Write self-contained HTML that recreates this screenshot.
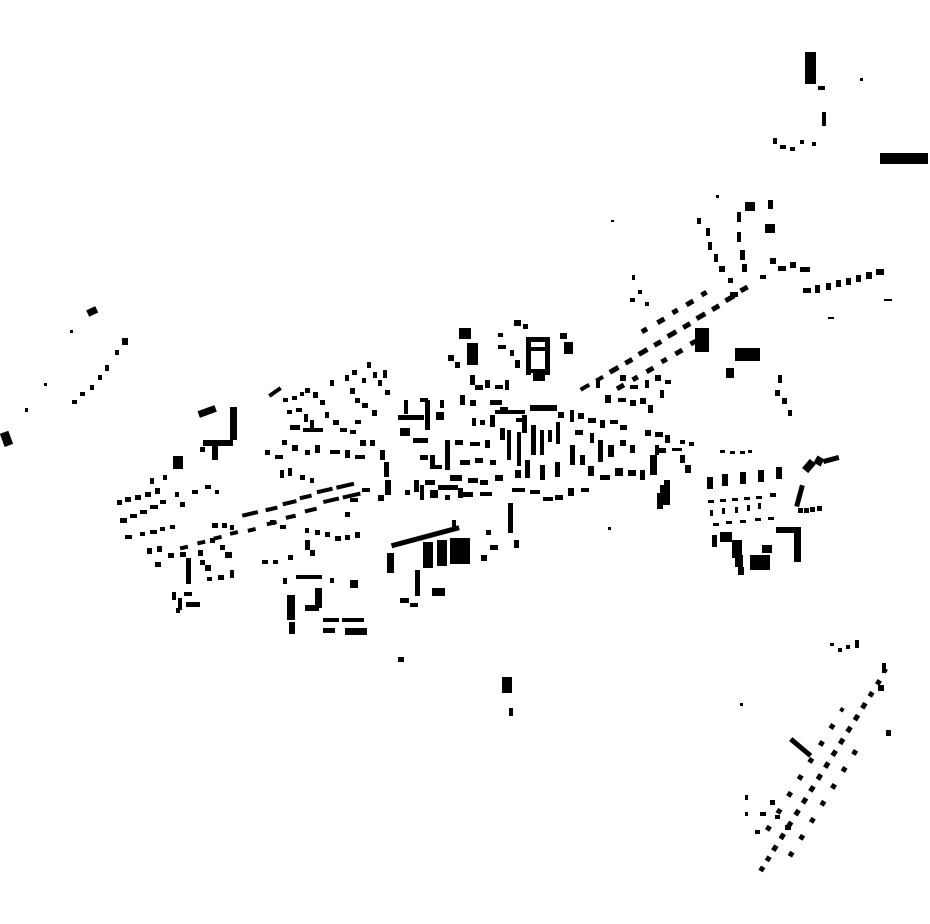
<!DOCTYPE html>
<html><head><meta charset="utf-8"><style>html,body{margin:0;padding:0;background:#fff;}svg{display:block}</style></head>
<body>
<svg width="930" height="924" viewBox="0 0 930 924" xmlns="http://www.w3.org/2000/svg">
<g fill="#000">
<!-- top right -->
<rect x="805" y="52" width="11" height="32"/><rect x="818" y="86" width="7" height="4"/><rect x="860" y="78" width="3" height="3"/>
<rect x="822" y="112" width="4" height="14"/><rect x="880" y="153" width="48" height="11"/>
<rect x="773" y="138" width="4" height="6"/><rect x="780" y="145" width="6" height="4"/><rect x="790" y="147" width="5" height="4"/><rect x="800" y="140" width="4" height="4"/><rect x="812" y="142" width="4" height="4"/>
<rect x="745" y="202" width="10" height="9"/><rect x="768" y="200" width="5" height="9"/><rect x="765" y="224" width="10" height="9"/><rect x="716" y="195" width="3" height="3"/><rect x="611" y="220" width="3" height="2"/>
<rect x="737" y="212" width="4" height="10"/><rect x="737" y="232" width="4" height="10"/><rect x="740" y="250" width="5" height="10"/><rect x="742" y="264" width="5" height="8"/>
<rect x="697" y="218" width="4" height="6"/><rect x="706" y="228" width="4" height="8"/><rect x="708" y="242" width="4" height="8"/><rect x="714" y="254" width="4" height="8"/><rect x="719" y="266" width="6" height="6"/><rect x="730" y="292" width="8" height="5"/><rect x="728" y="278" width="5" height="5"/>
<rect x="770" y="258" width="6" height="6"/><rect x="778" y="266" width="8" height="5"/><rect x="790" y="262" width="6" height="6"/><rect x="800" y="267" width="10" height="5"/><rect x="760" y="275" width="6" height="4"/>
<rect x="803" y="288" width="8" height="5"/><rect x="815" y="285" width="5" height="8"/><rect x="826" y="283" width="5" height="7"/><rect x="836" y="280" width="5" height="7"/><rect x="846" y="278" width="5" height="7"/><rect x="856" y="275" width="5" height="7"/><rect x="866" y="272" width="6" height="7"/><rect x="876" y="269" width="8" height="6"/><rect x="884" y="299" width="8" height="2"/><rect x="828" y="317" width="6" height="2"/>
<!-- diagonal main road chain NE -->
<g transform="rotate(-30 650 330)">
<rect x="560" y="345" width="10" height="4"/><rect x="578" y="345" width="8" height="4"/><rect x="594" y="344" width="10" height="5"/><rect x="612" y="344" width="8" height="5"/><rect x="628" y="343" width="10" height="5"/><rect x="646" y="343" width="8" height="5"/><rect x="662" y="342" width="10" height="5"/><rect x="680" y="342" width="8" height="5"/><rect x="696" y="341" width="10" height="5"/><rect x="714" y="341" width="8" height="5"/><rect x="730" y="340" width="10" height="5"/><rect x="748" y="339" width="8" height="5"/>
<rect x="592" y="362" width="8" height="5"/><rect x="610" y="362" width="6" height="5"/><rect x="626" y="362" width="8" height="5"/><rect x="644" y="361" width="6" height="5"/><rect x="660" y="361" width="8" height="5"/><rect x="678" y="360" width="6" height="5"/>
<rect x="642" y="325" width="6" height="5"/><rect x="660" y="325" width="8" height="5"/><rect x="678" y="324" width="6" height="5"/><rect x="694" y="324" width="8" height="5"/><rect x="712" y="323" width="6" height="5"/>
</g>
<rect x="632" y="275" width="3" height="5"/><rect x="638" y="290" width="4" height="4"/><rect x="630" y="298" width="5" height="4"/><rect x="645" y="302" width="4" height="4"/>
<rect x="695" y="328" width="14" height="24"/><rect x="735" y="348" width="25" height="13"/><rect x="726" y="368" width="8" height="10"/>
<rect x="778" y="375" width="4" height="8"/><rect x="775" y="390" width="5" height="6"/><rect x="782" y="398" width="5" height="6"/><rect x="788" y="410" width="4" height="6"/>
<!-- center top -->
<rect x="459" y="328" width="12" height="11"/><rect x="467" y="343" width="11" height="22"/><rect x="514" y="320" width="7" height="6"/><rect x="523" y="324" width="5" height="5"/>
<rect x="526" y="337" width="24" height="5"/><rect x="526" y="347" width="24" height="4"/><rect x="526" y="337" width="5" height="38"/><rect x="545" y="337" width="5" height="38"/><rect x="526" y="369" width="24" height="4"/><rect x="533" y="373" width="12" height="8"/>
<rect x="560" y="333" width="7" height="6"/><rect x="564" y="342" width="9" height="12"/>
<rect x="448" y="355" width="6" height="6"/><rect x="455" y="362" width="5" height="6"/>
<rect x="498" y="333" width="5" height="4"/><rect x="498" y="345" width="8" height="4"/><rect x="510" y="350" width="4" height="6"/><rect x="515" y="360" width="5" height="8"/>
<!-- center dense -->
<rect x="404" y="400" width="4" height="14"/><rect x="398" y="415" width="26" height="5"/><rect x="420" y="398" width="8" height="4"/><rect x="425" y="400" width="5" height="30"/><rect x="413" y="438" width="15" height="5"/><rect x="400" y="428" width="10" height="8"/>
<rect x="440" y="400" width="4" height="8"/><rect x="436" y="412" width="8" height="8"/><rect x="445" y="440" width="5" height="30"/><rect x="430" y="455" width="5" height="10"/>
<rect x="470" y="375" width="5" height="10"/><rect x="475" y="385" width="8" height="5"/><rect x="485" y="380" width="5" height="8"/><rect x="495" y="385" width="8" height="4"/><rect x="505" y="380" width="4" height="10"/>
<rect x="460" y="395" width="5" height="10"/><rect x="470" y="400" width="6" height="6"/><rect x="490" y="400" width="12" height="5"/><rect x="500" y="407" width="8" height="5"/>
<rect x="472" y="418" width="4" height="8"/><rect x="480" y="420" width="5" height="5"/><rect x="490" y="415" width="5" height="12"/>
<rect x="495" y="410" width="30" height="4"/><rect x="530" y="405" width="27" height="6"/><rect x="522" y="415" width="5" height="18"/>
<rect x="516" y="418" width="8" height="4"/><rect x="531" y="425" width="5" height="30"/><rect x="540" y="430" width="4" height="25"/><rect x="548" y="430" width="4" height="12"/><rect x="556" y="422" width="4" height="22"/><rect x="558" y="412" width="6" height="6"/>
<rect x="500" y="428" width="5" height="12"/><rect x="507" y="430" width="4" height="30"/><rect x="517" y="432" width="4" height="34"/>
<rect x="515" y="470" width="6" height="8"/><rect x="525" y="460" width="5" height="18"/><rect x="540" y="465" width="5" height="15"/><rect x="555" y="462" width="5" height="15"/>
<rect x="512" y="488" width="13" height="4"/><rect x="530" y="490" width="10" height="4"/><rect x="543" y="497" width="10" height="4"/><rect x="555" y="495" width="8" height="5"/><rect x="568" y="488" width="6" height="8"/><rect x="581" y="488" width="8" height="4"/>
<rect x="570" y="410" width="4" height="12"/><rect x="578" y="413" width="6" height="6"/><rect x="588" y="418" width="8" height="5"/><rect x="600" y="420" width="5" height="8"/><rect x="610" y="420" width="8" height="4"/><rect x="620" y="425" width="7" height="5"/>
<rect x="575" y="430" width="8" height="5"/><rect x="590" y="433" width="4" height="10"/><rect x="598" y="440" width="5" height="22"/><rect x="608" y="445" width="6" height="12"/><rect x="620" y="440" width="6" height="6"/><rect x="630" y="445" width="5" height="8"/>
<rect x="570" y="445" width="5" height="20"/><rect x="580" y="455" width="5" height="10"/><rect x="588" y="466" width="6" height="10"/><rect x="600" y="475" width="10" height="5"/><rect x="615" y="468" width="8" height="8"/><rect x="628" y="470" width="8" height="6"/><rect x="640" y="470" width="5" height="10"/>
<rect x="596" y="380" width="4" height="8"/><rect x="605" y="395" width="6" height="8"/><rect x="618" y="398" width="8" height="4"/><rect x="630" y="400" width="6" height="6"/><rect x="640" y="398" width="6" height="6"/><rect x="648" y="405" width="5" height="8"/>
<rect x="620" y="375" width="6" height="6"/><rect x="630" y="385" width="8" height="4"/><rect x="645" y="380" width="4" height="8"/><rect x="655" y="375" width="6" height="6"/><rect x="665" y="380" width="6" height="4"/><rect x="660" y="390" width="4" height="8"/>
<rect x="645" y="430" width="6" height="6"/><rect x="655" y="432" width="8" height="5"/><rect x="665" y="435" width="5" height="8"/><rect x="655" y="445" width="4" height="10"/><rect x="650" y="455" width="7" height="20"/><rect x="658" y="448" width="8" height="5"/>
<rect x="672" y="448" width="10" height="3"/><rect x="680" y="455" width="5" height="8"/><rect x="685" y="465" width="6" height="8"/><rect x="680" y="440" width="5" height="4"/><rect x="689" y="442" width="5" height="4"/>
<rect x="660" y="485" width="10" height="20"/><rect x="657" y="493" width="6" height="16"/><rect x="664" y="480" width="6" height="8"/>
<rect x="438" y="485" width="20" height="5"/><rect x="458" y="488" width="5" height="10"/><rect x="463" y="492" width="10" height="5"/><rect x="480" y="492" width="12" height="4"/><rect x="425" y="480" width="10" height="5"/>
<rect x="450" y="475" width="12" height="6"/><rect x="468" y="478" width="10" height="5"/><rect x="480" y="480" width="8" height="5"/><rect x="495" y="475" width="8" height="6"/>
<rect x="420" y="455" width="8" height="5"/><rect x="430" y="465" width="12" height="4"/><rect x="460" y="460" width="10" height="5"/><rect x="475" y="458" width="8" height="5"/><rect x="490" y="460" width="6" height="5"/>
<rect x="455" y="440" width="8" height="5"/><rect x="470" y="442" width="10" height="4"/><rect x="485" y="440" width="5" height="8"/>
<rect x="420" y="485" width="4" height="15"/><rect x="430" y="490" width="8" height="8"/><rect x="445" y="495" width="5" height="5"/>
<rect x="508" y="503" width="5" height="30"/><rect x="514" y="540" width="5" height="8"/><rect x="608" y="527" width="3" height="3"/>
<rect x="380" y="450" width="5" height="10"/><rect x="384" y="462" width="5" height="15"/><rect x="385" y="480" width="6" height="15"/><rect x="378" y="495" width="6" height="6"/><rect x="370" y="440" width="5" height="6"/>
<rect x="414" y="480" width="5" height="12"/><rect x="405" y="490" width="5" height="5"/>
<!-- industrial block -->
<g transform="rotate(-15 430 535)"><rect x="390" y="533" width="70" height="5"/></g>
<rect x="452" y="520" width="4" height="10"/><rect x="423" y="542" width="10" height="26"/><rect x="437" y="540" width="10" height="26"/><rect x="450" y="538" width="20" height="26"/>
<rect x="387" y="553" width="7" height="20"/><rect x="415" y="570" width="5" height="26"/><rect x="432" y="588" width="13" height="8"/><rect x="400" y="598" width="9" height="5"/><rect x="410" y="603" width="8" height="4"/><rect x="486" y="530" width="5" height="5"/><rect x="490" y="545" width="8" height="5"/><rect x="481" y="555" width="6" height="6"/>
<rect x="398" y="657" width="6" height="5"/><rect x="502" y="677" width="10" height="16"/><rect x="509" y="708" width="4" height="8"/>
<!-- south-west block near 290-370 -->
<rect x="283" y="578" width="4" height="6"/><rect x="296" y="575" width="26" height="4"/><rect x="330" y="578" width="4" height="5"/><rect x="287" y="595" width="8" height="25"/><rect x="289" y="622" width="6" height="12"/>
<rect x="315" y="588" width="7" height="20"/><rect x="305" y="605" width="14" height="6"/><rect x="323" y="618" width="16" height="4"/><rect x="342" y="618" width="22" height="4"/><rect x="323" y="628" width="12" height="5"/><rect x="345" y="628" width="22" height="7"/><rect x="350" y="580" width="8" height="8"/>
<!-- mid west streets -->
<rect x="268" y="390" width="14" height="4" transform="rotate(-35 275 392)"/>
<g transform="rotate(-13 300 490)">
<rect x="238" y="500" width="16" height="4"/><rect x="262" y="500" width="12" height="4"/><rect x="280" y="498" width="14" height="4"/><rect x="298" y="496" width="12" height="4"/><rect x="316" y="494" width="16" height="4"/><rect x="336" y="494" width="18" height="4"/><rect x="320" y="505" width="16" height="4"/><rect x="340" y="505" width="18" height="4"/><rect x="300" y="510" width="12" height="4"/><rect x="280" y="512" width="10" height="4"/><rect x="260" y="514" width="10" height="4"/><rect x="240" y="516" width="8" height="4"/><rect x="222" y="515" width="8" height="4"/>
<rect x="205" y="516" width="8" height="4"/><rect x="188" y="517" width="8" height="4"/><rect x="170" y="518" width="8" height="4"/>
</g>
<rect x="117" y="500" width="5" height="5"/><rect x="125" y="497" width="6" height="5"/><rect x="135" y="495" width="6" height="5"/><rect x="145" y="492" width="6" height="5"/><rect x="155" y="488" width="5" height="6"/><rect x="150" y="478" width="4" height="6"/><rect x="163" y="475" width="4" height="5"/>
<rect x="120" y="518" width="7" height="5"/><rect x="130" y="514" width="7" height="4"/><rect x="140" y="510" width="7" height="4"/><rect x="150" y="505" width="8" height="4"/><rect x="160" y="500" width="6" height="4"/>
<rect x="125" y="535" width="7" height="4"/><rect x="140" y="532" width="5" height="4"/><rect x="150" y="530" width="7" height="4"/><rect x="160" y="527" width="5" height="4"/><rect x="170" y="525" width="5" height="4"/>
<rect x="175" y="492" width="4" height="5"/><rect x="180" y="502" width="5" height="5"/><rect x="192" y="490" width="6" height="4"/><rect x="205" y="485" width="6" height="4"/><rect x="215" y="490" width="4" height="4"/>
<rect x="173" y="456" width="10" height="13"/><rect x="198" y="408" width="18" height="7" transform="rotate(-20 207 411)"/><rect x="230" y="407" width="7" height="33"/><rect x="203" y="440" width="30" height="6"/><rect x="212" y="440" width="6" height="20"/><rect x="200" y="447" width="5" height="5"/>
<rect x="147" y="548" width="5" height="6"/><rect x="157" y="546" width="5" height="6"/><rect x="168" y="553" width="6" height="5"/><rect x="180" y="552" width="6" height="5"/><rect x="186" y="558" width="5" height="26"/><rect x="155" y="562" width="6" height="5"/><rect x="198" y="550" width="5" height="6"/><rect x="200" y="560" width="5" height="5"/><rect x="205" y="565" width="6" height="6"/>
<rect x="207" y="577" width="5" height="4"/><rect x="218" y="575" width="6" height="5"/><rect x="230" y="570" width="4" height="8"/><rect x="210" y="538" width="5" height="5"/><rect x="220" y="545" width="5" height="5"/><rect x="225" y="552" width="7" height="6"/>
<rect x="172" y="592" width="4" height="8"/><rect x="178" y="598" width="4" height="12"/><rect x="184" y="592" width="8" height="4"/><rect x="186" y="602" width="14" height="5"/><rect x="176" y="608" width="4" height="5"/>
<rect x="212" y="523" width="6" height="5"/><rect x="222" y="523" width="5" height="5"/><rect x="230" y="525" width="4" height="5"/>
<!-- north-west of center -->
<rect x="283" y="398" width="5" height="4"/><rect x="292" y="396" width="5" height="4"/><rect x="300" y="392" width="4" height="4"/><rect x="305" y="388" width="5" height="5"/><rect x="313" y="392" width="5" height="6"/><rect x="320" y="400" width="5" height="5"/>
<rect x="287" y="410" width="5" height="4"/><rect x="296" y="408" width="6" height="4"/><rect x="304" y="414" width="4" height="8"/><rect x="290" y="425" width="10" height="5"/><rect x="303" y="428" width="20" height="4"/><rect x="310" y="420" width="4" height="10"/><rect x="325" y="412" width="4" height="6"/><rect x="333" y="420" width="6" height="5"/><rect x="340" y="428" width="7" height="4"/><rect x="350" y="430" width="6" height="4"/><rect x="355" y="420" width="6" height="4"/>
<rect x="330" y="380" width="4" height="6"/><rect x="345" y="375" width="4" height="6"/><rect x="350" y="388" width="5" height="6"/><rect x="355" y="398" width="5" height="5"/><rect x="362" y="403" width="6" height="5"/><rect x="372" y="410" width="5" height="6"/>
<rect x="367" y="362" width="4" height="6"/><rect x="373" y="372" width="4" height="6"/><rect x="378" y="380" width="4" height="6"/><rect x="383" y="370" width="4" height="8"/><rect x="385" y="390" width="5" height="5"/>
<rect x="352" y="370" width="5" height="5"/><rect x="362" y="378" width="4" height="5"/>
<rect x="265" y="450" width="5" height="5"/><rect x="275" y="455" width="8" height="4"/><rect x="282" y="440" width="5" height="5"/><rect x="292" y="445" width="6" height="6"/><rect x="305" y="450" width="5" height="5"/><rect x="315" y="445" width="5" height="8"/><rect x="330" y="450" width="10" height="4"/><rect x="345" y="450" width="5" height="8"/><rect x="355" y="455" width="10" height="4"/><rect x="360" y="440" width="6" height="6"/>
<rect x="280" y="470" width="4" height="8"/><rect x="288" y="468" width="4" height="8"/><rect x="300" y="475" width="5" height="5"/><rect x="310" y="478" width="4" height="5"/>
<rect x="270" y="520" width="5" height="5"/><rect x="280" y="525" width="6" height="4"/><rect x="305" y="528" width="4" height="5"/><rect x="315" y="530" width="5" height="5"/><rect x="325" y="532" width="5" height="5"/><rect x="335" y="536" width="6" height="5"/><rect x="345" y="535" width="5" height="5"/><rect x="355" y="532" width="5" height="6"/>
<rect x="305" y="540" width="5" height="10"/><rect x="310" y="550" width="5" height="6"/>
<rect x="262" y="560" width="6" height="4"/><rect x="273" y="560" width="5" height="4"/><rect x="288" y="555" width="5" height="5"/>
<rect x="350" y="498" width="8" height="4"/><rect x="362" y="488" width="8" height="4"/><rect x="345" y="512" width="5" height="5"/>
<!-- far west -->
<rect x="87" y="308" width="10" height="7" transform="rotate(-25 92 311)"/><rect x="122" y="338" width="6" height="7"/><rect x="70" y="330" width="3" height="3"/>
<rect x="115" y="350" width="4" height="5"/><rect x="105" y="365" width="4" height="6"/><rect x="98" y="375" width="4" height="5"/><rect x="90" y="385" width="4" height="5"/><rect x="80" y="392" width="5" height="4"/><rect x="72" y="400" width="5" height="4"/><rect x="44" y="383" width="3" height="3"/><rect x="25" y="408" width="3" height="4"/>
<rect x="2" y="432" width="9" height="14" transform="rotate(-20 6 439)"/>
<!-- east blocks -->
<rect x="720" y="450" width="5" height="3"/><rect x="730" y="451" width="5" height="3"/><rect x="740" y="451" width="5" height="3"/><rect x="748" y="450" width="4" height="3"/>
<rect x="707" y="477" width="6" height="12"/><rect x="722" y="474" width="6" height="12"/><rect x="740" y="472" width="6" height="12"/><rect x="758" y="470" width="6" height="12"/><rect x="776" y="467" width="6" height="12"/>
<rect x="708" y="500" width="6" height="3"/><rect x="720" y="499" width="6" height="3"/><rect x="732" y="498" width="6" height="3"/><rect x="744" y="497" width="6" height="3"/><rect x="756" y="496" width="6" height="3"/><rect x="770" y="493" width="6" height="4"/>
<rect x="710" y="510" width="3" height="6"/><rect x="722" y="508" width="3" height="6"/><rect x="735" y="507" width="3" height="6"/><rect x="747" y="505" width="3" height="6"/><rect x="758" y="503" width="3" height="6"/>
<rect x="713" y="523" width="6" height="3"/><rect x="726" y="521" width="6" height="3"/><rect x="740" y="520" width="6" height="3"/><rect x="755" y="518" width="6" height="3"/><rect x="768" y="517" width="6" height="3"/>
<rect x="712" y="535" width="5" height="12"/><rect x="720" y="532" width="12" height="10"/><rect x="732" y="540" width="10" height="18"/><rect x="735" y="555" width="8" height="12"/><rect x="738" y="567" width="6" height="8"/><rect x="750" y="555" width="20" height="15"/><rect x="762" y="545" width="10" height="8"/>
<rect x="776" y="527" width="20" height="6"/><rect x="794" y="527" width="7" height="35"/>
<rect x="797" y="485" width="5" height="22" transform="rotate(15 800 496)"/><rect x="798" y="508" width="5" height="5"/><rect x="804" y="508" width="5" height="5"/><rect x="810" y="507" width="5" height="5"/><rect x="817" y="506" width="5" height="5"/>
<rect x="805" y="460" width="8" height="12" transform="rotate(40 809 466)"/><rect x="815" y="457" width="8" height="8" transform="rotate(30 819 461)"/><rect x="823" y="457" width="16" height="5" transform="rotate(-15 831 459)"/>
<!-- far south east -->
<rect x="830" y="643" width="4" height="3"/><rect x="838" y="648" width="4" height="4"/><rect x="846" y="645" width="4" height="4"/><rect x="855" y="640" width="4" height="8"/><rect x="882" y="663" width="4" height="10"/><rect x="878" y="685" width="6" height="6"/><rect x="740" y="703" width="3" height="3"/><rect x="886" y="730" width="5" height="6"/>
<rect x="788" y="745" width="26" height="5" transform="rotate(40 801 747)"/>
<g transform="rotate(-58 822 768)">
<rect x="702" y="768" width="5" height="5"/><rect x="714" y="768" width="5" height="5"/><rect x="726" y="768" width="6" height="5"/><rect x="740" y="768" width="6" height="5"/><rect x="754" y="768" width="6" height="5"/><rect x="768" y="768" width="6" height="5"/><rect x="782" y="768" width="6" height="5"/><rect x="796" y="768" width="6" height="5"/><rect x="810" y="768" width="6" height="5"/><rect x="824" y="768" width="6" height="5"/><rect x="838" y="768" width="6" height="5"/><rect x="852" y="768" width="6" height="5"/><rect x="866" y="768" width="6" height="5"/><rect x="880" y="768" width="6" height="5"/><rect x="894" y="768" width="6" height="5"/><rect x="908" y="768" width="5" height="5"/><rect x="922" y="768" width="5" height="5"/><rect x="936" y="768" width="4" height="4"/>
<rect x="740" y="752" width="5" height="5"/><rect x="760" y="752" width="5" height="5"/><rect x="780" y="752" width="5" height="5"/><rect x="800" y="752" width="5" height="5"/><rect x="820" y="752" width="5" height="5"/><rect x="840" y="752" width="5" height="5"/><rect x="860" y="752" width="5" height="5"/><rect x="880" y="752" width="4" height="4"/>
<rect x="730" y="785" width="5" height="5"/><rect x="750" y="785" width="5" height="5"/><rect x="770" y="785" width="5" height="5"/><rect x="790" y="785" width="5" height="5"/><rect x="810" y="785" width="5" height="5"/><rect x="830" y="785" width="5" height="5"/><rect x="850" y="785" width="5" height="5"/>
</g>
<rect x="745" y="795" width="3" height="5"/><rect x="745" y="812" width="3" height="4"/><rect x="770" y="800" width="5" height="5"/><rect x="760" y="812" width="6" height="4"/><rect x="775" y="815" width="5" height="4"/><rect x="785" y="825" width="6" height="5"/><rect x="755" y="830" width="5" height="4"/>
</g>
</svg>
</body></html>
